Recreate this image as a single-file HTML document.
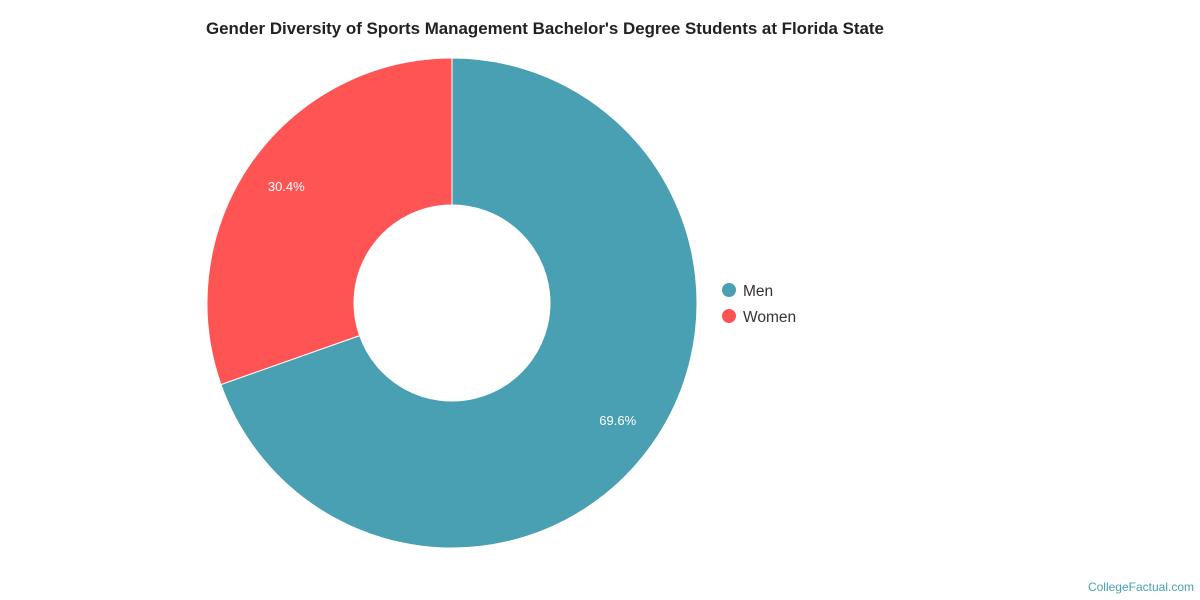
<!DOCTYPE html>
<html><head><meta charset="utf-8"><style>
body{margin:0;background:#fff;font-family:"Liberation Sans",sans-serif;}
#wrap{position:relative;width:1200px;height:600px;overflow:hidden;}
</style></head><body>
<div id="wrap">
<svg width="1200" height="600" id="svg">
<text x="206" y="34" font-size="16.9" font-weight="bold" fill="#222">Gender Diversity of Sports Management Bachelor's Degree Students at Florida State</text>
<g id="slices"></g>
<g id="legend"></g>
<text x="1194" y="591" font-size="12" fill="#4aa0b3" text-anchor="end">CollegeFactual.com</text>
</svg>
</div>
<script>
const categories=["Men","Women"];
const values=[69.6,30.4];
const colors=["#4aa0b3","#ff5454"];
const labels=["69.6%","30.4%"];
const cx=452,cy=303,R=245,r=98;
const ns="http://www.w3.org/2000/svg";
const g=document.getElementById('slices');
const total=values.reduce((a,b)=>a+b,0);
let a0=0;
function pt(rad,a){return [cx+rad*Math.sin(a),cy-rad*Math.cos(a)];}
values.forEach((v,i)=>{
  const a1=a0+v/total*2*Math.PI;
  const large=(a1-a0)>Math.PI?1:0;
  const [x0,y0]=pt(R,a0),[x1,y1]=pt(R,a1),[x2,y2]=pt(r,a1),[x3,y3]=pt(r,a0);
  const p=document.createElementNS(ns,'path');
  p.setAttribute('d',`M${x0},${y0}A${R},${R} 0 ${large} 1 ${x1},${y1}L${x2},${y2}A${r},${r} 0 ${large} 0 ${x3},${y3}Z`);
  p.setAttribute('fill',colors[i]);p.setAttribute('stroke','#fff');p.setAttribute('stroke-width','1');
  
  
  g.appendChild(p);
  const mid=(a0+a1)/2;const [lx,ly]=pt(203,mid);
  const t=document.createElementNS(ns,'text');
  t.setAttribute('x',lx);t.setAttribute('y',ly+5);t.setAttribute('font-size','13');
  t.setAttribute('fill','#fff');t.setAttribute('text-anchor','middle');
  t.textContent=labels[i];
  
  
  g.appendChild(t);
  a0=a1;
});
const lg=document.getElementById('legend');
categories.forEach((c,i)=>{
  const y=290+i*26;
  const e=document.createElementNS(ns,'g');
  
  
  const ci=document.createElementNS(ns,'circle');
  ci.setAttribute('cx',729);ci.setAttribute('cy',y);ci.setAttribute('r',7);ci.setAttribute('fill',colors[i]);
  const t=document.createElementNS(ns,'text');
  t.setAttribute('x',743);t.setAttribute('y',y+6);t.setAttribute('font-size','15.5');t.setAttribute('fill','#333');
  t.textContent=c;
  e.appendChild(ci);e.appendChild(t);lg.appendChild(e);
});
</script>
</body></html>
